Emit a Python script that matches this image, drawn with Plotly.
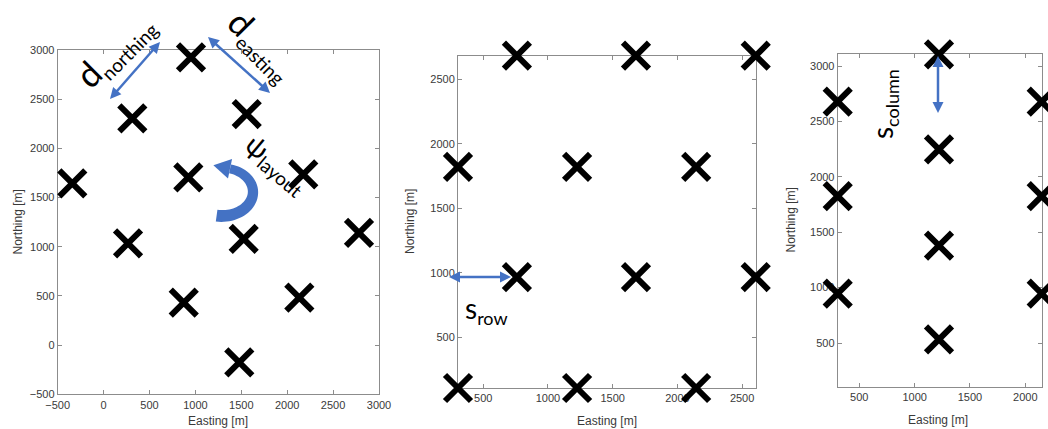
import math
import plotly.graph_objects as go

W, H = 1048, 429

# ---------------- data ----------------
# Panel 1: rotated layout
east1 = [-341, 313, 952, 1559, 923, 2175, 2782, 266, 1526, 873, 2132, 1478]
north1 = [1645, 2306, 2926, 2349, 1706, 1736, 1140, 1035, 1079, 431, 482, -175]
# Panel 2: row-offset layout
east2 = [760, 1680, 2605, 305, 1225, 2145, 760, 1680, 2605, 305, 1225, 2145]
north2 = [2683, 2683, 2683, 1822, 1822, 1822, 967, 967, 967, 107, 107, 107]
# Panel 3: column-offset layout
east3 = [305, 305, 305, 305, 1220, 1220, 1220, 1220, 2148, 2148, 2148, 2148]
north3 = [2678, 1826, 946, 105, 3106, 2247, 1380, 533, 2678, 1826, 946, 105]

ticks1 = [-500, 0, 500, 1000, 1500, 2000, 2500, 3000]
xticks2 = [500, 1000, 1500, 2000, 2500]
yticks2 = [500, 1000, 1500, 2000, 2500]
xticks3 = [500, 1000, 1500, 2000]
yticks3 = [500, 1000, 1500, 2000, 2500, 3000]

xrange1, yrange1 = [-500, 3000], [-500, 3000]
xrange2, yrange2 = [305, 2605], [107, 2683]
xrange3, yrange3 = [305, 2148], [106, 3106]

BLUE = "#4472C4"
LINE = "#8c8c8c"
TXT = "#3a3a3a"


def px(x, y):
    return x / W, 1 - y / H


def dom(a, b, size):
    return [a / size, b / size]


def ydom(top, bot):
    return [1 - bot / H, 1 - top / H]


fig = go.Figure()
mk = dict(symbol="x-thin", size=26, line=dict(width=6, color="black"), color="black")
for i, (ex, no) in enumerate([(east1, north1), (east2, north2), (east3, north3)]):
    sfx = "" if i == 0 else str(i + 1)
    fig.add_trace(go.Scatter(x=ex, y=no, mode="markers", marker=mk, cliponaxis=False,
                             xaxis="x" + sfx, yaxis="y" + sfx, showlegend=False,
                             hoverinfo="x+y"))

ax_common = dict(showline=True, mirror="ticks", linecolor=LINE, linewidth=1,
                 ticks="inside", ticklen=4, tickcolor=LINE, showgrid=False,
                 zeroline=False, layer="below traces", fixedrange=True, automargin=False,
                 tickfont=dict(family="Liberation Sans, Arial", size=11, color=TXT))

# pixel boxes of the plot areas
box1 = (57.7, 379.0, 50.0, 394.3)
box2 = (458.0, 755.7, 55.7, 388.0)
box3 = (837.7, 1041.7, 54.3, 386.7)

fig.update_layout(
    template="none",
    width=W, height=H, margin=dict(l=0, r=0, t=0, b=0, pad=0), showlegend=False,
    paper_bgcolor="white", plot_bgcolor="white",
    xaxis=dict(ax_common, domain=dom(box1[0], box1[1], W), range=xrange1, tickvals=ticks1, anchor="y"),
    yaxis=dict(ax_common, domain=ydom(box1[2], box1[3]), range=yrange1, tickvals=ticks1, anchor="x"),
    xaxis2=dict(ax_common, domain=dom(box2[0], box2[1], W), range=xrange2, tickvals=xticks2, anchor="y2"),
    yaxis2=dict(ax_common, domain=ydom(box2[2], box2[3]), range=yrange2, tickvals=yticks2, anchor="x2"),
    xaxis3=dict(ax_common, domain=dom(box3[0], box3[1], W), range=xrange3, tickvals=xticks3, anchor="y3"),
    yaxis3=dict(ax_common, domain=ydom(box3[2], box3[3]), range=yrange3, tickvals=yticks3, anchor="x3"),
)

annots = []
tfont = dict(family="Liberation Sans, Arial", size=12, color=TXT)
# axis titles
for (cx, cy, ang, t) in [(218, 421, 0, "Easting [m]"), (607, 421, 0, "Easting [m]"),
                         (938, 420, 0, "Easting [m]"),
                         (17.5, 222, -90, "Northing [m]"), (410, 222, -90, "Northing [m]"),
                         (790, 220.5, -90, "Northing [m]")]:
    x, y = px(cx, cy)
    annots.append(dict(x=x, y=y, xref="paper", yref="paper", text=t, showarrow=False,
                       textangle=ang, font=tfont, xanchor="center", yanchor="middle"))


def lbl(main, sub, sub_px=19):
    return '%s<sub><span style="font-size:%dpx">%s</span></sub>' % (main, sub_px, sub)


lfont = dict(family="Lato, Open Sans", size=28, color="black")
for (cx, cy, ang, t, fs) in [(114, 50, -45, lbl("d", "northing"), 35),
                             (262, 45, 45, lbl("d", "easting"), 35),
                             (276, 165, 40, lbl("ψ", "layout"), 27),
                             (486, 310, 0, lbl("s", "row", 18), 28),
                             (884, 104, -90, lbl("s", "column", 18), 28)]:
    x, y = px(cx, cy)
    annots.append(dict(x=x, y=y, xref="paper", yref="paper", text=t, showarrow=False,
                       textangle=ang, font=dict(lfont, size=fs), xanchor="center", yanchor="middle"))

fig.update_layout(annotations=annots)


def poly_path(pts):
    return "M " + " L ".join("%.5f,%.5f" % px(a, b) for a, b in pts) + " Z"


# double-headed straight arrows (pixel endpoints)
for (ax0, ay0, ax1, ay1) in [(110, 99, 160, 42), (208, 37, 270, 93),
                             (449, 277, 511, 277), (938, 56, 938, 113)]:
    dx, dy = ax1 - ax0, ay1 - ay0
    L = math.hypot(dx, dy)
    ux, uy = dx / L, dy / L
    nx, ny = -uy, ux
    hl, hw = 11.0, 5.5
    sx0, sy0 = ax0 + ux * (hl - 1), ay0 + uy * (hl - 1)
    sx1, sy1 = ax1 - ux * (hl - 1), ay1 - uy * (hl - 1)
    a0, b0 = px(sx0, sy0)
    a1, b1 = px(sx1, sy1)
    fig.add_shape(type="line", x0=a0, y0=b0, x1=a1, y1=b1, xref="paper", yref="paper",
                  line=dict(color=BLUE, width=2.5), layer="above")
    for (tx, ty, sgn) in [(ax1, ay1, 1), (ax0, ay0, -1)]:
        bx, by = tx - sgn * ux * hl, ty - sgn * uy * hl
        head = [(tx, ty), (bx + nx * hw, by + ny * hw), (bx - nx * hw, by - ny * hw)]
        fig.add_shape(type="path", path=poly_path(head), xref="paper", yref="paper",
                      fillcolor=BLUE, line=dict(width=0), layer="above")

# curved (rotation) arrow built as a filled polygon in pixel space
cx0, cy0, rx, ry = 222.0, 192.0, 31.0, 24.0
t0, t1 = -100.0, 75.0
n = 40
outer, inner = [], []
for k in range(n + 1):
    t = math.radians(t0 + (t1 - t0) * k / n)
    x = cx0 + rx * math.cos(t)
    y = cy0 - ry * math.sin(t)
    dx, dy = -rx * math.sin(t), -ry * math.cos(t)
    L = math.hypot(dx, dy)
    nx, ny = dy / L, -dx / L
    w = (12.0 + (9.0 - 12.0) * k / n) / 2
    outer.append((x + nx * w, y + ny * w))
    inner.append((x - nx * w, y - ny * w))
fig.add_shape(type="path", path=poly_path(outer + inner[::-1]), xref="paper", yref="paper",
              fillcolor=BLUE, line=dict(width=0), layer="above")
# arrowhead at the end of the arc
t = math.radians(t1)
ex = cx0 + rx * math.cos(t)
ey = cy0 - ry * math.sin(t)
dx, dy = -rx * math.sin(t), -ry * math.cos(t)
L = math.hypot(dx, dy)
ux, uy = dx / L, dy / L
nx, ny = -uy, ux
hw, hl = 10.0, 17.0
head = [(ex + nx * hw, ey + ny * hw), (ex + ux * hl, ey + uy * hl), (ex - nx * hw, ey - ny * hw)]
fig.add_shape(type="path", path=poly_path(head), xref="paper", yref="paper",
              fillcolor=BLUE, line=dict(width=0), layer="above")

fig.write_html("out.html", config={"displayModeBar": False},
               post_script="document.body.style.margin='0';document.body.style.overflow='hidden';")
